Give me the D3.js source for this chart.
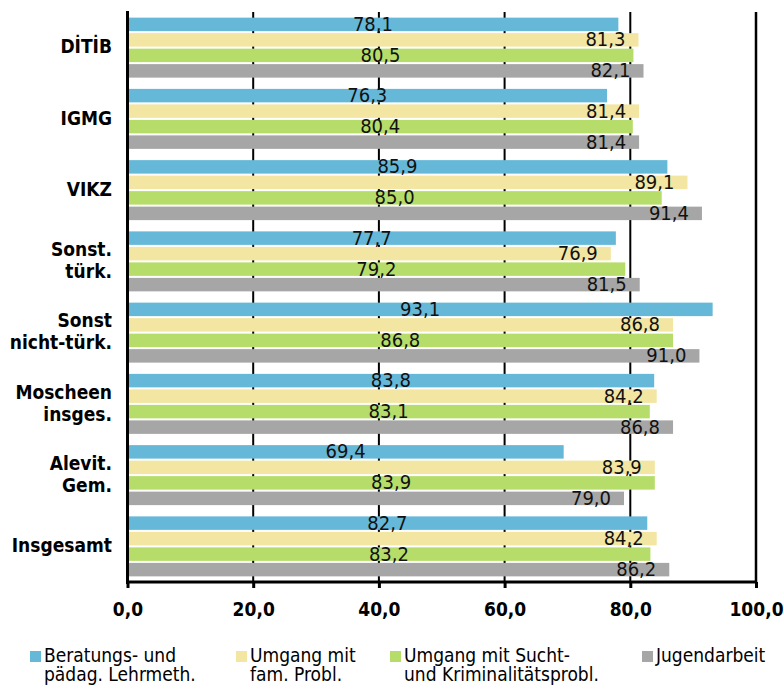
<!DOCTYPE html>
<html><head><meta charset="utf-8">
<script src="https://cdn.jsdelivr.net/npm/d3@7"></script>
<style>
body{margin:0;background:#fff;}
text{font-family:"DejaVu Sans Condensed","DejaVu Sans",sans-serif;}
</style></head>
<body><svg id="c" width="784" height="685"></svg>
<script>
const categories = [["DİTİB"],["IGMG"],["VIKZ"],["Sonst.","türk."],["Sonst","nicht-türk."],["Moscheen","insges."],["Alevit.","Gem."],["Insgesamt"]];
const seriesNames = [["Beratungs- und","pädag. Lehrmeth."],["Umgang mit","fam. Probl."],["Umgang mit Sucht-","und Kriminalitätsprobl."],["Jugendarbeit"]];
const beratung = [78.1,76.3,85.9,77.7,93.1,83.8,69.4,82.7];
const familie  = [81.3,81.4,89.1,76.9,86.8,84.2,83.9,84.2];
const sucht    = [80.5,80.4,85.0,79.2,86.8,83.1,83.9,83.2];
const jugend   = [82.1,81.4,91.4,81.5,91.0,86.8,79.0,86.2];
const xTicks = [0,20,40,60,80,100];
const colors = ["#65b8d8","#f2e6a2","#b6dd6a","#a6a6a6"];
const labelMode = ["center","end","center","end"];

const series = [beratung,familie,sucht,jugend];
const svg = d3.select("#c");
const x = d3.scaleLinear().domain([0,100]).range([127.5,756]);
const y0 = d3.scaleBand().domain(d3.range(categories.length)).range([12,582]).paddingInner(0.158).paddingOuter(0.079);
const y1 = d3.scaleBand().domain(d3.range(series.length)).range([0,y0.bandwidth()]).paddingInner(0.13);
const fmt = v => v.toFixed(1).replace(".",",");

// gridlines
svg.append("g").selectAll("line").data(xTicks.slice(1)).join("line")
  .attr("x1",d=>x(d)).attr("x2",d=>x(d)).attr("y1",12).attr("y2",582)
  .attr("stroke","#000").attr("stroke-width",d=>d===100?2.5:2);

// bars
const g = svg.append("g");
categories.forEach((c,i)=>{
  series.forEach((s,j)=>{
    g.append("rect").attr("x",x(0)).attr("y",y0(i)+y1(j))
      .attr("width",x(s[i])-x(0)).attr("height",y1.bandwidth()).attr("fill",colors[j]);
  });
});
// labels
categories.forEach((c,i)=>{
  series.forEach((s,j)=>{
    const cy = y0(i)+y1(j)+y1.bandwidth()/2;
    const t = g.append("text").attr("y",cy).attr("dy","0.33em")
      .attr("font-size",20).attr("fill","#111").text(fmt(s[i]));
    if(labelMode[j]==="center") t.attr("x",x(s[i]/2)).attr("text-anchor","middle");
    else t.attr("x",x(s[i])-13).attr("text-anchor","end");
  });
});

// axes
const xAxis = d3.axisBottom(x).tickValues(xTicks).tickSize(6).tickFormat(fmt);
const ax = svg.append("g").attr("transform","translate(0,582)").call(xAxis);
ax.select(".domain").attr("stroke","#000").attr("stroke-width",3).attr("d","M127.5,0H756");
ax.selectAll(".tick line").attr("stroke","#000").attr("stroke-width",3);
ax.selectAll(".tick text").attr("font-size",19).attr("font-weight","bold").attr("fill","#000").attr("dy","0").attr("y",34)
  .attr("font-family","DejaVu Sans Condensed, DejaVu Sans, sans-serif");
svg.append("line").attr("x1",127.5).attr("x2",127.5).attr("y1",11).attr("y2",584).attr("stroke","#000").attr("stroke-width",3);

// category labels
categories.forEach((c,i)=>{
  const cy = y0(i)+y0.bandwidth()/2;
  const t = svg.append("text").attr("text-anchor","end").attr("font-weight","bold").attr("font-size",19).attr("fill","#000");
  const lh = 22;
  c.forEach((line,k)=>{
    t.append("tspan").attr("x",112).attr("y",cy + (k-(c.length-1)/2)*lh - 1).attr("dy","0.36em").text(line);
  });
});

// legend
const legX = [30,236,390,642];
const leg = svg.append("g");
seriesNames.forEach((n,j)=>{
  leg.append("rect").attr("x",legX[j]).attr("y",651).attr("width",11).attr("height",11).attr("fill",colors[j]);
  n.forEach((line,k)=>{
    leg.append("text").attr("font-size",19).attr("fill","#000")
      .attr("x",legX[j]+14).attr("y",662+k*18.5).text(line);
  });
});
</script></body></html>
